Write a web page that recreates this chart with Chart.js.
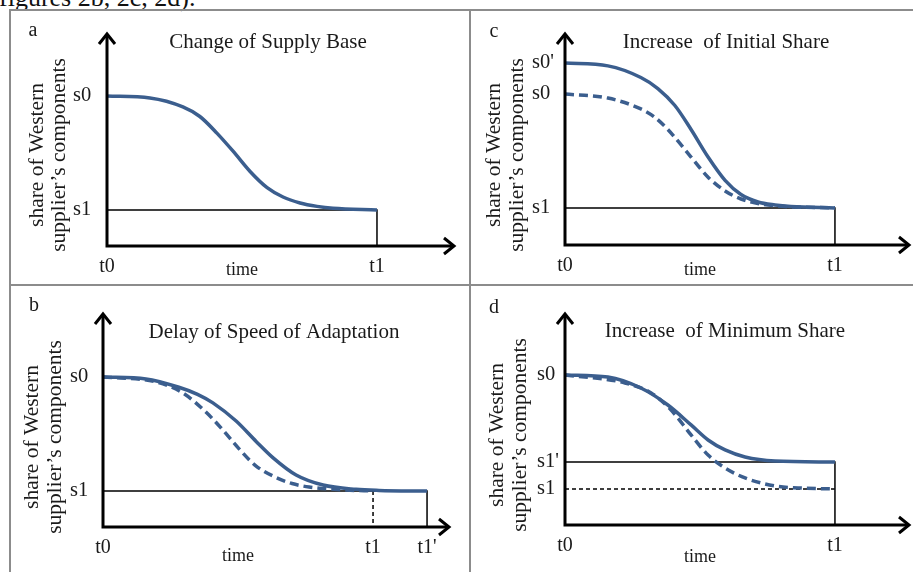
<!DOCTYPE html>
<html>
<head>
<meta charset="utf-8">
<script src="https://cdn.jsdelivr.net/npm/chart.js@4/dist/chart.umd.min.js"></script>
<style>
  html, body { margin:0; padding:0; background:#fff; }
  body { width:913px; height:572px; overflow:hidden; position:relative; font-family:'Liberation Serif','Times New Roman',serif; }
  #cap { position:absolute; left:-1px; top:-15px; font-size:26px; line-height:26px; color:#111; white-space:nowrap; }
  .ln { position:absolute; background:#8c8c8c; }
  canvas { position:absolute; }
</style>
</head>
<body>
<div id="cap">figures 2b, 2c, 2d).</div>
<div class="ln" style="left:9px;top:9px;width:904px;height:2px"></div>
<div class="ln" style="left:9px;top:9px;width:2px;height:563px"></div>
<div class="ln" style="left:469px;top:9px;width:2px;height:563px"></div>
<div class="ln" style="left:9px;top:284px;width:904px;height:2px"></div>
<canvas id="pa"></canvas>
<canvas id="pc"></canvas>
<canvas id="pb"></canvas>
<canvas id="pd"></canvas>
<script>
// ---------- DATA ----------
// Panel a: Change of Supply Base
const aTime  = [0, 1.59, 2.81, 3.44, 4.07, 4.67, 5.30, 5.93, 6.52, 7.15, 7.78, 8.37, 10];
const aShare = [70.4, 69.5, 65.3, 60.8, 53.0, 44.5, 35.0, 27.4, 23.0, 20.2, 18.6, 17.7, 16.9];
const aYTicks = [70.4, 16.9];
const aYLabels = ['s0', 's1'];
const aXTicks = [0, 10];
const aXLabels = ['t0', 't1'];
const aRefTime = [0, 10, 10];
const aRefShare = [16.9, 16.9, 0];

// Panel c: Increase of Initial Share
const cTimeNew  = [0, 1.59, 2.81, 3.44, 4.07, 4.67, 5.30, 5.93, 6.52, 7.15, 7.78, 8.37, 10];
const cShareNew = [85.8, 84.5, 79.0, 73.8, 65.8, 54.5, 41.5, 30.5, 23.8, 20.3, 18.9, 18.2, 17.5];
const cTimeOld  = [0, 1.59, 2.81, 3.30, 3.81, 4.25, 4.67, 5.30, 5.93, 6.52, 7.15, 7.78, 8.37, 10];
const cShareOld = [71.2, 69.3, 64.2, 60.5, 54.5, 48.0, 41.5, 32.0, 25.5, 21.7, 19.6, 18.5, 18.0, 17.5];
const cYTicks = [85.8, 71.2, 17.5];
const cYLabels = ["s0'", 's0', 's1'];
const cXTicks = [0, 10];
const cXLabels = ['t0', 't1'];
const cRefTime = [0, 10, 10];
const cRefShare = [17.5, 17.5, 0];

// Panel b: Delay of Speed of Adaptation
const bTimeNew  = [0, 1.59, 2.81, 3.50, 4.07, 4.93, 5.67, 6.30, 7.15, 8.15, 9.37, 10.22, 12];
const bShareNew = [70.1, 69.2, 65.3, 62.0, 58.0, 49.5, 40.0, 32.3, 24.3, 19.6, 17.6, 17.1, 16.8];
const bTimeOld  = [0, 1.96, 2.96, 3.81, 4.44, 5.04, 5.67, 6.52, 7.00, 7.63, 9.0, 10];
const bShareOld = [70.1, 67.8, 62.6, 53.7, 45.3, 36.5, 28.5, 22.5, 20.3, 18.7, 17.3, 16.8];
const bYTicks = [70.1, 16.8];
const bYLabels = ['s0', 's1'];
const bXTicks = [0, 10, 12];
const bXLabels = ['t0', 't1', "t1'"];
const bRefTime = [0, 12, 12];
const bRefShare = [16.8, 16.8, 0];
const bRefOldTime = [10, 10];
const bRefOldShare = [16.8, 0];

// Panel d: Increase of Minimum Share
const dTimeNew  = [0, 1.59, 2.81, 3.81, 4.67, 5.30, 5.93, 6.67, 7.78, 10];
const dShareNew = [70.8, 69.8, 64.6, 56.6, 47.2, 40.1, 35.4, 32.1, 30.2, 29.7];
const dTimeOld  = [0, 2.22, 3.19, 3.93, 4.67, 5.30, 5.93, 6.67, 7.78, 8.63, 10];
const dShareOld = [70.8, 67.0, 62.3, 54.2, 42.5, 33.0, 26.9, 22.2, 18.4, 17.5, 17.0];
const dYTicks = [70.8, 29.7, 17.0];
const dYLabels = ['s0', "s1'", 's1'];
const dXTicks = [0, 10];
const dXLabels = ['t0', 't1'];
const dRefTime = [0, 10, 10];
const dRefShare = [29.7, 29.7, 0];
const dRefOldTime = [0, 10];
const dRefOldShare = [17.0, 17.0];

// ---------- STYLE / HELPERS ----------
const FONT = "'Liberation Serif','Times New Roman',serif";
const CURVE = '#3B5E8E';
const TXT = '#1a1a1a';
const pts = (xs, ys) => xs.map((x, i) => ({ x: x, y: ys[i] }));

const curve = (xs, ys, dashed) => ({
  data: pts(xs, ys), borderColor: CURVE, borderWidth: 3.5, pointRadius: 0,
  cubicInterpolationMode: 'monotone', borderDash: dashed ? [9, 5] : [], fill: false, clip: false
});
const ref = (xs, ys, dashed) => ({
  data: pts(xs, ys), borderColor: '#000', borderWidth: 1.5, pointRadius: 0,
  tension: 0, borderDash: dashed ? [4, 3] : [], fill: false, clip: false
});

const axisPlugin = {
  id: 'arrowAxes',
  afterDatasetsDraw(chart) {
    const { ctx, scales: { x, y } } = chart;
    const x0 = x.getPixelForValue(0), y0 = y.getPixelForValue(0);
    const xEnd = x.getPixelForValue(x.max), yEnd = y.getPixelForValue(y.max);
    ctx.save();
    ctx.strokeStyle = '#000'; ctx.lineWidth = 3; ctx.lineJoin = 'miter'; ctx.lineCap = 'butt';
    ctx.beginPath();
    ctx.moveTo(x0, y0 + 1.5); ctx.lineTo(x0, yEnd + 1);
    ctx.moveTo(x0 - 1.5, y0); ctx.lineTo(xEnd - 1, y0);
    ctx.stroke();
    ctx.beginPath();
    ctx.moveTo(x0 - 8, yEnd + 11); ctx.lineTo(x0, yEnd + 1); ctx.lineTo(x0 + 8, yEnd + 11);
    ctx.moveTo(xEnd - 11, y0 - 8); ctx.lineTo(xEnd - 1, y0); ctx.lineTo(xEnd - 11, y0 + 8);
    ctx.stroke();
    ctx.restore();
  }
};

const textPlugin = {
  id: 'panelText',
  afterDraw(chart, args, o) {
    const ctx = chart.ctx;
    const ox = o.ox, oy = o.oy;
    ctx.save();
    ctx.fillStyle = TXT; ctx.textAlign = 'center'; ctx.textBaseline = 'middle';
    ctx.font = '20px ' + FONT;
    ctx.fillText(o.letter, o.letterPos[0] - ox, o.letterPos[1] - oy);
    ctx.font = '21px ' + FONT;
    ctx.fillText(o.title, o.titlePos[0] - ox, o.titlePos[1] - oy);
    ctx.font = '18px ' + FONT;
    ctx.fillText('time', o.timePos[0] - ox, o.timePos[1] - oy);
    ctx.font = '21.5px ' + FONT;
    o.yTitle.forEach((line, i) => {
      ctx.save();
      ctx.translate(o.yTitleX[i] - ox, o.yTitleY - oy);
      ctx.rotate(-Math.PI / 2);
      ctx.fillText(line, 0, 0);
      ctx.restore();
    });
    ctx.restore();
  }
};

function makePanel(id, box, area, cfg) {
  const cv = document.getElementById(id);
  cv.width = box.w; cv.height = box.h;
  cv.style.left = box.x + 'px'; cv.style.top = box.y + 'px';
  cv.style.width = box.w + 'px'; cv.style.height = box.h + 'px';
  const YW = area.l - cfg.yLabelLeft;
  const XH = 44;
  new Chart(cv, {
    type: 'line',
    data: { datasets: cfg.datasets },
    options: {
      responsive: false, animation: false, events: [],
      layout: { padding: {
        left: area.l - box.x - YW, top: area.t - box.y,
        right: box.x + box.w - area.r, bottom: box.y + box.h - area.b - XH } },
      plugins: {
        legend: { display: false }, tooltip: { enabled: false },
        panelText: Object.assign({ ox: box.x, oy: box.y }, cfg.text)
      },
      scales: {
        x: {
          type: 'linear', min: 0, max: cfg.xMax,
          afterFit: s => { s.height = XH; },
          afterBuildTicks: s => { s.ticks = cfg.xTicks.map(v => ({ value: v })); },
          ticks: { autoSkip: false, maxRotation: 0, padding: 9, color: TXT,
                   font: { family: FONT, size: 20 }, callback: (v, i) => cfg.xLabels[i] },
          grid: { display: false, drawTicks: false }, border: { display: false }
        },
        y: {
          type: 'linear', min: 0, max: 100,
          afterFit: s => { s.width = YW; },
          afterBuildTicks: s => { s.ticks = cfg.yTicks.map(v => ({ value: v })); },
          ticks: { autoSkip: false, crossAlign: 'far', padding: 0, color: TXT,
                   font: { family: FONT, size: 20.5 }, callback: (v, i) => cfg.yLabels[i] },
          grid: { display: false, drawTicks: false }, border: { display: false }
        }
      }
    },
    plugins: [axisPlugin, textPlugin]
  });
}

const YT = ['share of Western', 'supplier\u2019s components'];

makePanel('pa', { x: 11, y: 11, w: 458, h: 273 }, { l: 107, t: 33, r: 455, b: 246 }, {
  xMax: 12.89, yLabelLeft: 73,
  xTicks: aXTicks, xLabels: aXLabels, yTicks: aYTicks, yLabels: aYLabels,
  datasets: [curve(aTime, aShare, false), ref(aRefTime, aRefShare, false)],
  text: { letter: 'a', letterPos: [33, 31], title: 'Change of Supply Base', titlePos: [268, 42],
          timePos: [242, 270], yTitle: YT, yTitleX: [37, 59], yTitleY: 155 }
});

makePanel('pc', { x: 471, y: 11, w: 442, h: 273 }, { l: 565, t: 33, r: 910, b: 245 }, {
  xMax: 12.78, yLabelLeft: 532,
  xTicks: cXTicks, xLabels: cXLabels, yTicks: cYTicks, yLabels: cYLabels,
  datasets: [curve(cTimeNew, cShareNew, false), curve(cTimeOld, cShareOld, true), ref(cRefTime, cRefShare, false)],
  text: { letter: 'c', letterPos: [494, 32], title: 'Increase  of Initial Share', titlePos: [726, 42],
          timePos: [700, 270], yTitle: YT, yTitleX: [494, 517], yTitleY: 155 }
});

makePanel('pb', { x: 11, y: 286, w: 458, h: 286 }, { l: 103, t: 313, r: 450, b: 527 }, {
  xMax: 12.85, yLabelLeft: 70,
  xTicks: bXTicks, xLabels: bXLabels, yTicks: bYTicks, yLabels: bYLabels,
  datasets: [curve(bTimeNew, bShareNew, false), curve(bTimeOld, bShareOld, true),
             ref(bRefTime, bRefShare, false), ref(bRefOldTime, bRefOldShare, true)],
  text: { letter: 'b', letterPos: [34, 306], title: 'Delay of Speed of Adaptation', titlePos: [274, 332],
          timePos: [238, 556], yTitle: YT, yTitleX: [32, 55], yTitleY: 437 }
});

makePanel('pd', { x: 471, y: 286, w: 442, h: 286 }, { l: 565, t: 313, r: 910, b: 525 }, {
  xMax: 12.78, yLabelLeft: 537,
  xTicks: dXTicks, xLabels: dXLabels, yTicks: dYTicks, yLabels: dYLabels,
  datasets: [curve(dTimeNew, dShareNew, false), curve(dTimeOld, dShareOld, true),
             ref(dRefTime, dRefShare, false), ref(dRefOldTime, dRefOldShare, true)],
  text: { letter: 'd', letterPos: [494, 308], title: 'Increase  of Minimum Share', titlePos: [725, 331],
          timePos: [700, 557], yTitle: YT, yTitleX: [497, 520], yTitleY: 435 }
});
</script>
</body>
</html>
